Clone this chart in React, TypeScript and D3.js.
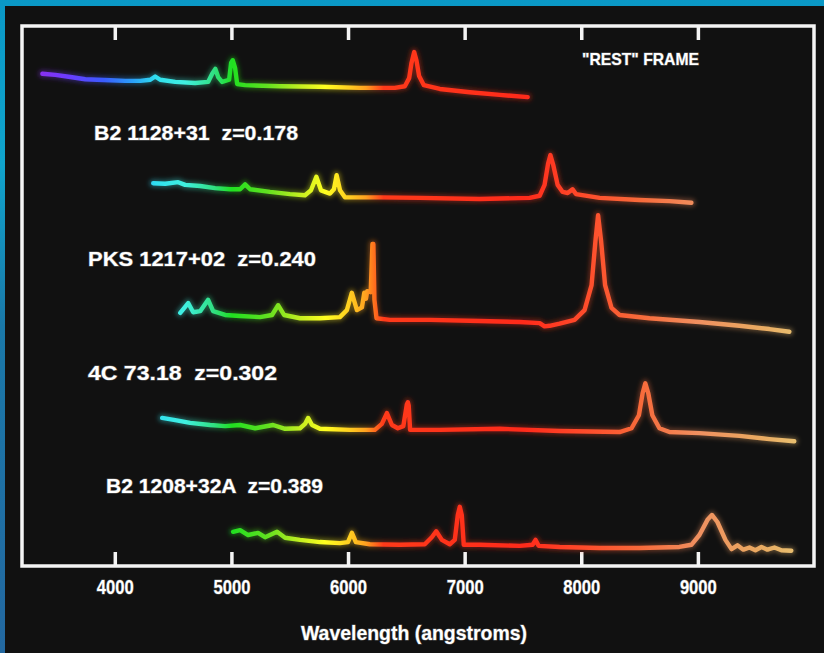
import React from "react";
import * as d3 from "d3";

// ---------- data ----------
const wavelengthTicks = [4000, 5000, 6000, 7000, 8000, 9000];

// [wavelength (Å), relative flux + offset]
const restFrame: [number, number][] = [
  [3375, 91.0], [3486, 90.8], [3615, 90.4], [3743, 90.0], [3846, 89.9], [3957, 89.8],
  [4086, 89.7], [4214, 89.7], [4300, 89.9], [4342, 90.5], [4385, 89.9], [4514, 89.5],
  [4685, 89.3], [4796, 89.5], [4831, 91.0], [4858, 91.9], [4882, 90.4], [4916, 89.5],
  [4976, 89.9], [4993, 93.0], [5007, 93.5], [5027, 92.1], [5045, 89.1], [5113, 88.9],
  [5413, 88.7], [5755, 88.6], [6098, 88.4], [6397, 88.4], [6483, 88.7], [6520, 90.2],
  [6540, 93.0], [6563, 95.0], [6582, 93.5], [6605, 90.6], [6646, 88.9], [6783, 88.2],
  [7040, 87.6], [7296, 87.1], [7536, 86.7],
];

const b2_1128: [number, number][] = [
  [4325, 70.8], [4428, 70.7], [4539, 71.0], [4599, 70.5], [4728, 70.3], [4856, 69.9],
  [4985, 69.7], [5070, 69.7], [5113, 70.6], [5156, 69.7], [5327, 69.2], [5498, 68.8],
  [5627, 68.6], [5678, 69.5], [5724, 72.0], [5764, 69.5], [5841, 68.9], [5875, 69.7],
  [5898, 72.3], [5927, 69.5], [5969, 68.2], [6269, 68.2], [6611, 68.1], [7125, 67.9],
  [7553, 68.1], [7639, 68.5], [7681, 70.5], [7712, 74.5], [7731, 76.0], [7755, 74.2],
  [7793, 70.5], [7836, 69.2], [7879, 69.0], [7921, 69.7], [7950, 68.8], [8153, 68.1],
  [8495, 67.7], [8752, 67.5], [8940, 67.2],
];

const pks_1217: [number, number][] = [
  [4557, 46.9], [4625, 48.7], [4668, 47.0], [4728, 47.2], [4796, 49.3], [4839, 47.2],
  [4942, 46.5], [5070, 46.3], [5241, 46.1], [5344, 46.5], [5396, 48.3], [5447, 46.5],
  [5584, 45.9], [5755, 45.9], [5926, 46.1], [5986, 47.4], [6028, 50.6], [6072, 47.4],
  [6115, 47.9], [6135, 50.6], [6150, 49.5], [6160, 50.9], [6190, 50.7], [6200, 56.6],
  [6205, 59.6], [6213, 59.6], [6222, 49.3], [6240, 45.9], [6355, 45.6], [6697, 45.6],
  [7125, 45.4], [7467, 45.2], [7639, 45.0], [7681, 44.4], [7724, 44.5], [7810, 44.9],
  [7938, 45.6], [8024, 47.4], [8084, 52.0], [8118, 60.3], [8140, 64.9], [8165, 60.3],
  [8200, 52.0], [8255, 47.8], [8324, 46.5], [8581, 45.9], [9009, 45.2], [9352, 44.5],
  [9609, 43.9], [9780, 43.4],
];

const c4_73_18: [number, number][] = [
  [4402, 27.5], [4514, 27.1], [4642, 26.6], [4813, 26.2], [4942, 26.0], [5070, 26.2],
  [5199, 25.6], [5353, 26.2], [5456, 25.5], [5584, 25.6], [5627, 26.4], [5653, 27.5],
  [5687, 26.2], [5755, 25.5], [6012, 25.3], [6226, 25.3], [6286, 26.4], [6329, 28.4],
  [6372, 26.2], [6423, 25.6], [6470, 26.0], [6500, 30.0], [6509, 30.4], [6516, 29.8],
  [6528, 25.3], [6783, 25.3], [7296, 25.5], [7810, 25.1], [8324, 24.9], [8427, 25.6],
  [8490, 28.0], [8522, 32.1], [8545, 33.9], [8570, 32.1], [8605, 28.0], [8666, 25.6],
  [8752, 24.9], [9009, 24.7], [9352, 24.2], [9609, 23.6], [9822, 23.2],
];

const b2_1208: [number, number][] = [
  [5010, 6.5], [5070, 6.8], [5139, 5.9], [5224, 6.3], [5284, 5.5], [5387, 6.5],
  [5456, 5.4], [5584, 5.0], [5755, 4.6], [5926, 4.4], [5995, 4.6], [6029, 6.3],
  [6063, 4.6], [6183, 4.2], [6440, 4.1], [6654, 4.2], [6714, 5.5], [6752, 6.6],
  [6800, 5.0], [6868, 4.2], [6911, 5.0], [6937, 9.6], [6954, 11.1], [6971, 9.6],
  [6988, 4.1], [7125, 4.1], [7467, 3.9], [7578, 4.1], [7604, 5.0], [7630, 3.9],
  [7810, 3.7], [8153, 3.5], [8495, 3.5], [8837, 3.7], [8940, 4.1], [9009, 5.9],
  [9078, 8.7], [9116, 9.6], [9163, 8.3], [9232, 5.0], [9284, 3.3], [9335, 4.0],
  [9386, 3.2], [9438, 3.6], [9489, 3.1], [9541, 3.7], [9592, 3.2], [9652, 3.6],
  [9712, 3.1], [9797, 3.0],
];

const spectra = [restFrame, b2_1128, pks_1217, c4_73_18, b2_1208];
const spectrumLabels = [
  "B2 1128+31  z=0.178",
  "PKS 1217+02  z=0.240",
  "4C 73.18  z=0.302",
  "B2 1208+32A  z=0.389",
];
const frameLabel = "\"REST\" FRAME";
const xAxisTitle = "Wavelength (angstroms)";

// colour of the spectrum by wavelength
const colourStops: [number, string][] = [
  [3350, "#8a30f0"], [3600, "#6a3cff"], [3900, "#3a5cff"], [4150, "#2aa0f8"],
  [4350, "#30e0f0"], [4600, "#40f0e0"], [4850, "#30e080"], [5000, "#20e020"],
  [5300, "#60e020"], [5600, "#c8f020"], [5800, "#ffff20"], [6000, "#ffd020"],
  [6150, "#ffa020"], [6300, "#ff3a1a"], [7500, "#ff2a1a"], [8000, "#ff4a2a"],
  [8500, "#f86a3a"], [9000, "#f09060"], [9500, "#eaa860"], [9850, "#e8c070"],
];

// ---------- layout ----------
const W = 824;
const H = 653;
const FRAME = { left: 22, right: 814, top: 26, bottom: 566 };

export default function App() {
  const xScale = d3.scaleLinear().domain([3200, 10000]).range([22, 815]);
  const yScale = d3.scaleLinear().domain([0, 100]).range([567, 25]);
  const line = d3
    .line<[number, number]>()
    .x((d) => xScale(d[0]))
    .y((d) => yScale(d[1]))
    .curve(d3.curveLinear);

  const [d0, d1] = xScale.domain();
  const font = "'Liberation Sans Narrow', 'Arial Narrow', 'Liberation Sans', Arial, sans-serif";

  const labelPos = [
    { x: 94, y: 140, w: 204 },
    { x: 88, y: 266, w: 228 },
    { x: 88, y: 380, w: 189 },
    { x: 106, y: 493, w: 217 },
  ];

  const textStyle: React.CSSProperties = {
    fontFamily: font,
    fontWeight: 700,
    fill: "#ffffff",
    stroke: "#5a5a5a",
    strokeWidth: 1.2,
    paintOrder: "stroke",
  };

  return (
    <svg
      width={W}
      height={H}
      style={{ position: "fixed", left: 0, top: 0, display: "block" }}
    >
      <defs>
        <linearGradient id="bgBlue" x1="0" y1="0" x2="0" y2="1">
          <stop offset="0" stopColor="#0a98c6" />
          <stop offset="0.25" stopColor="#10a4cc" />
          <stop offset="0.5" stopColor="#1a78a8" />
          <stop offset="1" stopColor="#2368a0" />
        </linearGradient>
        <linearGradient
          id="specGrad"
          gradientUnits="userSpaceOnUse"
          x1={xScale(d0)}
          x2={xScale(d1)}
          y1={0}
          y2={0}
        >
          {colourStops.map(([w, c]) => (
            <stop key={w} offset={(w - d0) / (d1 - d0)} stopColor={c} />
          ))}
        </linearGradient>
        <filter id="glow" x="-5%" y="-50%" width="110%" height="200%">
          <feGaussianBlur stdDeviation="2" />
        </filter>
      </defs>

      <rect x={0} y={0} width={W} height={H} fill="url(#bgBlue)" />
      <rect x={5} y={6} width={W - 5} height={H - 6} fill="#111111" />

      {/* frame */}
      <rect
        x={FRAME.left}
        y={FRAME.top}
        width={FRAME.right - FRAME.left}
        height={FRAME.bottom - FRAME.top}
        fill="none"
        stroke="#f4f4f4"
        strokeWidth={3.5}
      />
      {wavelengthTicks.map((t) => (
        <g key={t}>
          <line
            x1={xScale(t)}
            x2={xScale(t)}
            y1={FRAME.top}
            y2={FRAME.top + 14}
            stroke="#f4f4f4"
            strokeWidth={3.5}
          />
          <line
            x1={xScale(t)}
            x2={xScale(t)}
            y1={FRAME.bottom}
            y2={FRAME.bottom - 14}
            stroke="#f4f4f4"
            strokeWidth={3.5}
          />
          <text
            x={xScale(t)}
            y={594}
            textAnchor="middle"
            fontSize={20}
            textLength={37}
            lengthAdjust="spacingAndGlyphs"
            style={textStyle}
          >
            {t}
          </text>
        </g>
      ))}

      {/* spectra */}
      {spectra.map((s, i) => (
        <g key={i}>
          <path
            d={line(s) || ""}
            fill="none"
            stroke="url(#specGrad)"
            strokeWidth={8}
            strokeOpacity={0.35}
            strokeLinejoin="round"
            strokeLinecap="round"
            filter="url(#glow)"
          />
          <path
            d={line(s) || ""}
            fill="none"
            stroke="url(#specGrad)"
            strokeWidth={4.4}
            strokeLinejoin="round"
            strokeLinecap="round"
          />
        </g>
      ))}

      {/* labels */}
      {spectrumLabels.map((l, i) => (
        <text
          key={l}
          x={labelPos[i].x}
          y={labelPos[i].y}
          fontSize={21}
          textLength={labelPos[i].w}
          lengthAdjust="spacingAndGlyphs"
          style={{ ...textStyle, whiteSpace: "pre" }}
        >
          {l}
        </text>
      ))}
      <text
        x={582}
        y={65}
        fontSize={17}
        textLength={117}
        lengthAdjust="spacingAndGlyphs"
        style={textStyle}
      >
        {frameLabel}
      </text>
      <text
        x={(FRAME.left + FRAME.right) / 2 - 4}
        y={640}
        textAnchor="middle"
        fontSize={21}
        textLength={226}
        lengthAdjust="spacingAndGlyphs"
        style={textStyle}
      >
        {xAxisTitle}
      </text>
    </svg>
  );
}
